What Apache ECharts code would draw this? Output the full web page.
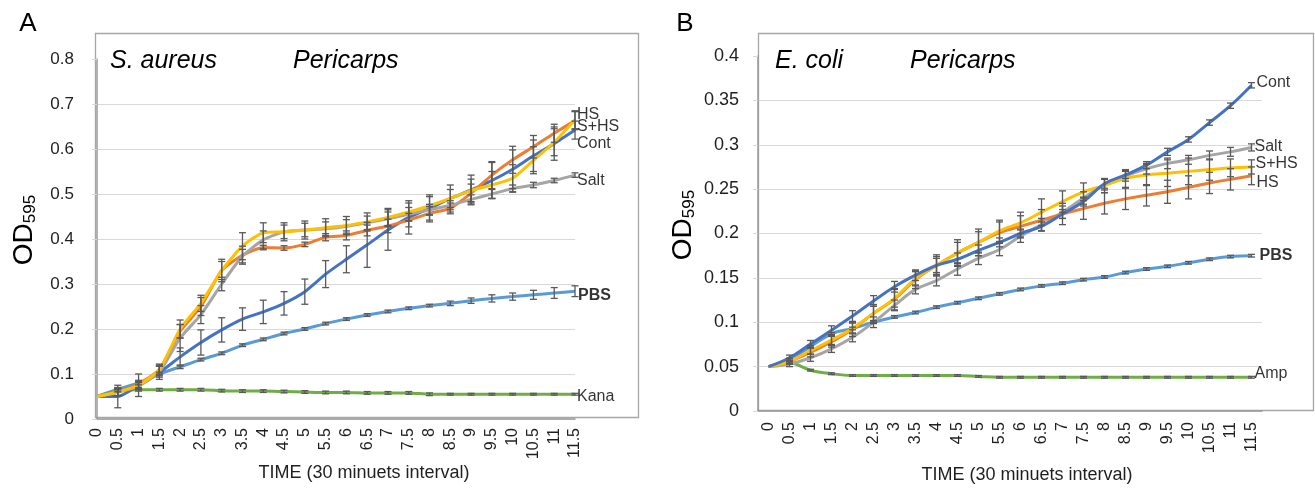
<!DOCTYPE html>
<html><head><meta charset="utf-8">
<script src="https://cdn.jsdelivr.net/npm/echarts@6/dist/echarts.min.js"></script>
<style>html,body{margin:0;padding:0;background:#fff}#c{width:1315px;height:488px}</style>
</head><body><div id="c"></div>
<script>
const times = ['0','0.5','1','1.5','2','2.5','3','3.5','4','4.5','5','5.5','6','6.5','7','7.5','8','8.5','9','9.5','10','10.5','11','11.5'];
const yTicksA = {min:0, max:0.8, interval:0.1};
const yTicksB = {min:0, max:0.4, interval:0.05};

// Panel A: S. aureus
const aCont = [0.05,0.05,0.075,0.103,0.138,0.17,0.198,0.222,0.238,0.257,0.283,0.322,0.355,0.387,0.42,0.448,0.468,0.49,0.509,0.53,0.555,0.585,0.612,0.642];
const aHS   = [0.05,0.06,0.078,0.11,0.195,0.25,0.33,0.364,0.381,0.38,0.388,0.404,0.408,0.419,0.429,0.442,0.457,0.468,0.502,0.542,0.576,0.605,0.635,0.663];
const aSHS  = [0.05,0.06,0.075,0.11,0.2,0.257,0.33,0.384,0.414,0.416,0.42,0.425,0.43,0.438,0.448,0.46,0.474,0.49,0.508,0.52,0.535,0.575,0.615,0.665];
const aSalt = [0.05,0.06,0.073,0.105,0.18,0.232,0.3,0.362,0.398,0.416,0.42,0.423,0.428,0.436,0.445,0.455,0.465,0.475,0.488,0.5,0.512,0.52,0.53,0.542];
const aPBS  = [0.05,0.066,0.08,0.1,0.116,0.132,0.146,0.164,0.177,0.19,0.2,0.212,0.222,0.231,0.239,0.246,0.252,0.257,0.263,0.268,0.272,0.276,0.28,0.284];
const aKana = [0.05,0.063,0.065,0.065,0.065,0.065,0.063,0.062,0.062,0.061,0.06,0.059,0.059,0.058,0.058,0.058,0.055,0.055,0.055,0.055,0.055,0.055,0.055,0.055];
const aContErr = [0,0.025,0.025,0.015,0.02,0.028,0.027,0.025,0.026,0.026,0.028,0.03,0.03,0.05,0.045,0.037,0.03,0.03,0.033,0.04,0.043,0.035,0.037,0.02];
const aHSErr   = [0,0.008,0.008,0.01,0.015,0.02,0.02,0.02,0.005,0.005,0.005,0.008,0.01,0.012,0.015,0.015,0.015,0.012,0.02,0.03,0.03,0.025,0.02,0.02];
const aSHSErr  = [0,0.008,0.008,0.012,0.02,0.018,0.025,0.03,0.022,0.02,0.02,0.02,0.02,0.02,0.02,0.02,0.02,0.02,0.025,0.03,0.03,0.03,0.03,0.02];
const aSaltErr = [0,0.008,0.008,0.012,0.03,0.02,0.015,0.015,0.02,0.015,0.015,0.015,0.015,0.015,0.015,0.015,0.012,0.01,0.01,0.01,0.008,0.006,0.005,0.005];
const aPBSErr  = [0,0.004,0.004,0.004,0.004,0.003,0.003,0.003,0.003,0.003,0.003,0.003,0.003,0.003,0.003,0.003,0.003,0.005,0.006,0.008,0.008,0.01,0.012,0.012];
const aKanaErr = [0,0.003,0.003,0.003,0.003,0.003,0.003,0.003,0.003,0.003,0.003,0.003,0.003,0.003,0.003,0.003,0.003,0.002,0.002,0.002,0.002,0.002,0.002,0.002];

// Panel B: E. coli
const bCont = [0.05,0.06,0.0755,0.091,0.107,0.124,0.14,0.153,0.164,0.171,0.181,0.19,0.2,0.208,0.222,0.236,0.256,0.266,0.277,0.292,0.306,0.325,0.344,0.367];
const bHS   = [0.05,0.056,0.066,0.078,0.092,0.11,0.126,0.148,0.164,0.178,0.19,0.201,0.208,0.215,0.222,0.228,0.234,0.239,0.243,0.247,0.252,0.257,0.261,0.265];
const bSHS  = [0.05,0.056,0.068,0.08,0.093,0.11,0.127,0.149,0.164,0.178,0.19,0.203,0.212,0.224,0.236,0.247,0.254,0.262,0.266,0.268,0.27,0.272,0.274,0.275];
const bSalt = [0.05,0.053,0.06,0.07,0.083,0.1,0.119,0.137,0.147,0.16,0.172,0.182,0.197,0.21,0.224,0.24,0.255,0.265,0.273,0.279,0.283,0.288,0.292,0.297];
const bPBS  = [0.05,0.058,0.0725,0.087,0.093,0.1,0.106,0.111,0.117,0.122,0.127,0.132,0.137,0.141,0.144,0.148,0.151,0.156,0.16,0.163,0.167,0.171,0.174,0.175];
const bAmp  = [0.05,0.054,0.046,0.042,0.04,0.04,0.04,0.04,0.04,0.04,0.039,0.038,0.038,0.038,0.038,0.038,0.038,0.038,0.038,0.038,0.038,0.038,0.038,0.038];
const bContErr = [0,0.003,0.004,0.005,0.006,0.006,0.006,0.006,0.008,0.007,0.006,0.005,0.005,0.005,0.005,0.005,0.005,0.004,0.004,0.004,0.003,0.003,0.003,0.003];
const bHSErr   = [0,0.003,0.005,0.006,0.008,0.01,0.012,0.01,0.01,0.012,0.012,0.012,0.012,0.012,0.012,0.012,0.012,0.012,0.012,0.013,0.013,0.012,0.012,0.01];
const bSHSErr  = [0,0.003,0.004,0.005,0.006,0.008,0.01,0.008,0.012,0.015,0.015,0.012,0.012,0.015,0.012,0.01,0.008,0.01,0.012,0.015,0.015,0.012,0.01,0.008];
const bSaltErr = [0,0.003,0.004,0.004,0.005,0.006,0.006,0.005,0.006,0.007,0.007,0.007,0.007,0.007,0.007,0.007,0.006,0.006,0.006,0.006,0.005,0.005,0.005,0.004];
const bPBSErr  = [0,0.0015,0.0015,0.0015,0.0015,0.0015,0.0015,0.0015,0.0015,0.0015,0.0015,0.0015,0.0015,0.0015,0.0015,0.0015,0.0015,0.0015,0.0015,0.0015,0.0015,0.0015,0.0015,0.0015];
const bAmpErr  = [0,0.001,0.001,0.001,0.001,0.001,0.001,0.001,0.001,0.001,0.001,0.001,0.001,0.001,0.001,0.001,0.001,0.001,0.001,0.001,0.001,0.001,0.001,0.001];

const FONT = '"Liberation Sans", Arial, sans-serif';
const C = {cont:'#4472C4', hs:'#ED7D31', salt:'#A5A5A5', shs:'#FFC000', pbs:'#5B9BD5', ab:'#70AD47'};

function line(ax, name, vals, color, smooth){
  return {type:'line', name, xAxisIndex:ax, yAxisIndex:ax, data:vals, showSymbol:false, smooth,
    lineStyle:{color, width:3}, itemStyle:{color}, z:2, silent:true, animation:false};
}
function err(ax, vals, errs){
  const d = vals.map((v,i)=>[i, v-errs[i], v+errs[i]]).filter((_,i)=>errs[i]>0);
  return {type:'custom', xAxisIndex:ax, yAxisIndex:ax, data:d, z:4, silent:true, animation:false,
    encode:{x:0, y:[1,2]},
    renderItem(p, api){
      const x = api.value(0);
      const lo = api.coord([x, api.value(1)]);
      const hi = api.coord([x, api.value(2)]);
      const w = 3.5, st = {stroke:'#595959', lineWidth:1.3};
      return {type:'group', children:[
        {type:'line', shape:{x1:lo[0],y1:lo[1],x2:hi[0],y2:hi[1]}, style:st},
        {type:'line', shape:{x1:lo[0]-w,y1:lo[1],x2:lo[0]+w,y2:lo[1]}, style:st},
        {type:'line', shape:{x1:hi[0]-w,y1:hi[1],x2:hi[0]+w,y2:hi[1]}, style:st}
      ]};
    }};
}
function endLab(ax, text, vals, dy, bold, dist){
  const last = vals.length-1;
  return {type:'scatter', xAxisIndex:ax, yAxisIndex:ax, symbolSize:0, silent:true, animation:false, z:6,
    data:[[last, vals[last]]],
    label:{show:true, position:'right', distance:dist, offset:[0,dy], formatter:text,
      color:'#000', fontSize:16, fontFamily:FONT, fontWeight: bold?'bold':'normal'}};
}

function xAxis(gi, gap, margin){
  return {type:'category', gridIndex:gi, data:times, boundaryGap:gap,
    axisLine:{show:true, lineStyle:{color:'#9a9a9a', width:1.5}}, axisTick:{show:false},
    axisLabel:{interval:0, rotate:90, margin, fontSize:16, color:'#1f1f1f', fontFamily:FONT},
    splitLine:{show:false}};
}
function yAxis(gi, t, margin, fs){
  return {type:'value', gridIndex:gi, min:t.min, max:t.max, interval:t.interval,
    axisLine:{show:true, lineStyle:{color:'#9a9a9a', width:1.5}},
    axisTick:{show:true, length:5, lineStyle:{color:'#d9d9d9'}},
    axisLabel:{margin, fontSize:fs, color:'#1f1f1f', fontFamily:FONT},
    splitLine:{show:true, showMaxLine:false, lineStyle:{color:'#d9d9d9', width:1.2}}};
}

const chart = echarts.init(document.getElementById('c'), null, {renderer:'canvas'});
chart.setOption({
  animation:false,
  backgroundColor:'#fff',
  grid:[
    {left:97, right:740, top:59, bottom:69},
    {left:758, right:53, top:56, bottom:77}
  ],
  xAxis:[xAxis(0,false,9), xAxis(1,true,11)],
  yAxis:[yAxis(0,yTicksA,23,17), yAxis(1,yTicksB,19,18)],
  series:[
    line(0,'PBS',aPBS,C.pbs,0.2), line(0,'Kana',aKana,C.ab,0.2),
    line(0,'Cont',aCont,C.cont,0.2), line(0,'HS',aHS,C.hs,0.2),
    line(0,'Salt',aSalt,C.salt,0.2), line(0,'S+HS',aSHS,C.shs,0.2),
    err(0,aPBS,aPBSErr), err(0,aKana,aKanaErr), err(0,aCont,aContErr),
    err(0,aHS,aHSErr), err(0,aSalt,aSaltErr), err(0,aSHS,aSHSErr),
    endLab(0,'HS',aHS,-6,false,2), endLab(0,'S+HS',aSHS,7,false,2), endLab(0,'Cont',aCont,13,false,2),
    endLab(0,'Salt',aSalt,5,false,2), endLab(0,'PBS',aPBS,4,true,3), endLab(0,'Kana',aKana,2,false,2),

    line(1,'PBS',bPBS,C.pbs,0.4), line(1,'Amp',bAmp,C.ab,0.4),
    line(1,'Salt',bSalt,C.salt,0.4), line(1,'HS',bHS,C.hs,0.4),
    line(1,'S+HS',bSHS,C.shs,0.4), line(1,'Cont',bCont,C.cont,0.4),
    err(1,bPBS,bPBSErr), err(1,bAmp,bAmpErr), err(1,bCont,bContErr),
    err(1,bHS,bHSErr), err(1,bSalt,bSaltErr), err(1,bSHS,bSHSErr),
    endLab(1,'Cont',bCont,-3,false,5), endLab(1,'Salt',bSalt,-1,false,3), endLab(1,'S+HS',bSHS,-3,false,4),
    endLab(1,'HS',bHS,7,false,5), endLab(1,'PBS',bPBS,0,true,8), endLab(1,'Amp',bAmp,-4,false,3)
  ],
  graphic:[
    {type:'rect', shape:{x:95.5,y:33.5,width:543,height:384}, style:{fill:null, stroke:'#a6a6a6', lineWidth:1.3}, z:-1, silent:true},
    {type:'rect', shape:{x:758.5,y:33.5,width:555,height:377}, style:{fill:null, stroke:'#a6a6a6', lineWidth:1.3}, z:-1, silent:true},
    {type:'text', x:28, y:24, style:{text:'A', font:'26px '+FONT, fill:'#000', align:'center', verticalAlign:'middle'}},
    {type:'text', x:685, y:24, style:{text:'B', font:'26px '+FONT, fill:'#000', align:'center', verticalAlign:'middle'}},
    {type:'text', x:110, y:61, style:{text:'S. aureus', font:'italic 25px '+FONT, fill:'#000', align:'left', verticalAlign:'middle'}},
    {type:'text', x:293, y:61, style:{text:'Pericarps', font:'italic 25px '+FONT, fill:'#000', align:'left', verticalAlign:'middle'}},
    {type:'text', x:775, y:61, style:{text:'E. coli', font:'italic 25px '+FONT, fill:'#000', align:'left', verticalAlign:'middle'}},
    {type:'text', x:910, y:61, style:{text:'Pericarps', font:'italic 25px '+FONT, fill:'#000', align:'left', verticalAlign:'middle'}},
    {type:'text', x:364, y:473, style:{text:'TIME (30 minuets interval)', font:'18px '+FONT, fill:'#1f1f1f', align:'center', verticalAlign:'middle'}},
    {type:'text', x:1027, y:475, style:{text:'TIME (30 minuets interval)', font:'18px '+FONT, fill:'#1f1f1f', align:'center', verticalAlign:'middle'}},
    {type:'text', x:24, y:230, rotation:Math.PI/2, style:{text:'{a|OD}{b|595}', align:'center', verticalAlign:'middle',
      rich:{a:{fontSize:28, fontFamily:FONT, fill:'#000', lineHeight:30, verticalAlign:'middle'}, b:{fontSize:17, fontFamily:FONT, fill:'#000', lineHeight:17, verticalAlign:'bottom'}}}},
    {type:'text', x:683, y:225, rotation:Math.PI/2, style:{text:'{a|OD}{b|595}', align:'center', verticalAlign:'middle',
      rich:{a:{fontSize:28, fontFamily:FONT, fill:'#000', lineHeight:30, verticalAlign:'middle'}, b:{fontSize:17, fontFamily:FONT, fill:'#000', lineHeight:17, verticalAlign:'bottom'}}}}
  ]
});
</script></body></html>
